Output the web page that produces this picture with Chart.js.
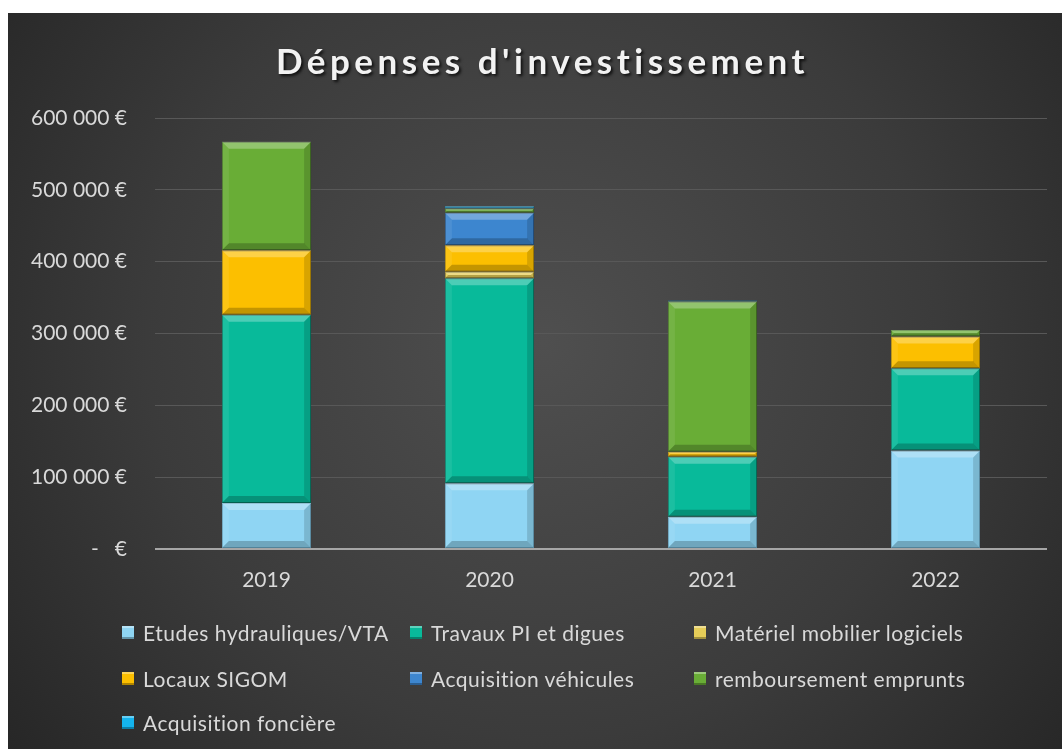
<!DOCTYPE html>
<html>
<head>
<meta charset="utf-8">
<script src="https://cdn.jsdelivr.net/npm/chart.js@4.4.1/dist/chart.umd.min.js"></script>
<style>
  html, body { margin: 0; padding: 0; background: #ffffff; }
  #wrap { position: absolute; left: 8px; top: 13px; width: 1054px; height: 736px; }
  #c { position: absolute; left: 0; top: 0; }
  .lg { position: absolute; font-family: Lato, "Open Sans", sans-serif; font-size: 21px; letter-spacing: 0.5px; color: #d9d9d9; white-space: nowrap; line-height: 24px; }
  .lg .sw { position: absolute; left: 0; top: 5px; width: 12px; height: 13px; box-shadow: inset 0 2px 0 rgba(255,255,255,0.35), inset 0 -2px 0 rgba(0,0,0,0.3); }
  .lg .tx { position: absolute; left: 21px; top: 0; }
</style>
</head>
<body>
<div id="wrap">
  <canvas id="c" width="1054" height="736"></canvas>
  <div id="legend"></div>
</div>
<script>
const categories = ['2019', '2020', '2021', '2022'];
const etudes = [64000, 91500, 45000, 137000];
const travaux = [262000, 285500, 83500, 114700];
const materiel = [null, 9000, null, null];
const locaux = [90000, 37000, 7000, 44000];
const vehicules = [null, 45000, null, null];
const remboursement = [151000, 6000, 209000, 9000];
const fonciere = [null, 3000, 1500, null];
const yTickValues = [0, 100000, 200000, 300000, 400000, 500000, 600000];
const yTickLabels = ['-   €', '100 000 €', '200 000 €', '300 000 €', '400 000 €', '500 000 €', '600 000 €'];
const seriesNames = ['Etudes hydrauliques/VTA', 'Travaux PI et digues', 'Matériel mobilier logiciels', 'Locaux SIGOM', 'Acquisition véhicules', 'remboursement emprunts', 'Acquisition foncière'];
const seriesColors = ['#8fd5f3', '#08ba9a', '#e6cd58', '#fcbf00', '#3d86cf', '#69ad36', '#14b4ee'];
const seriesBorders = ['#6aa8c4', '#047a64', '#9c8a2e', '#b98c00', '#24578c', '#447524', '#0a7aa8'];
const seriesData = [etudes, travaux, materiel, locaux, vehicules, remboursement, fonciere];
const titleText = "Dépenses d'investissement";

const bgPlugin = {
  id: 'bg',
  beforeDraw(chart) {
    const ctx = chart.ctx;
    const w = chart.width, h = chart.height;
    ctx.save();
    const g = ctx.createRadialGradient(535, 330, 0, 535, 330, 720);
    g.addColorStop(0, '#4f4f4f');
    g.addColorStop(0.55, '#3b3b3b');
    g.addColorStop(1, '#232323');
    ctx.fillStyle = g;
    ctx.fillRect(0, 0, w, h);
    ctx.restore();
  },
  afterLayout(chart) {
    const tb = chart.titleBlock;
    if (tb && !tb._patched) {
      const orig = tb.draw;
      tb.draw = function () {
        const ctx = this.ctx;
        ctx.save();
        ctx.translate(15, 0);
        ctx.letterSpacing = '4.5px';
        ctx.shadowColor = 'rgba(0,0,0,0.75)';
        ctx.shadowOffsetX = 2;
        ctx.shadowOffsetY = 2;
        ctx.shadowBlur = 3;
        orig.apply(this, arguments);
        ctx.restore();
      };
      tb._patched = true;
    }
  }
};

const bevelPlugin = {
  id: 'bevel',
  afterDatasetsDraw(chart) {
    const ctx = chart.ctx;
    ctx.save();
    chart.data.datasets.forEach((ds, i) => {
      const meta = chart.getDatasetMeta(i);
      if (meta.hidden) return;
      meta.data.forEach((el, j) => {
        if (ds.data[j] == null) return;
        const p = el.getProps(['x', 'y', 'base', 'width'], true);
        const l = p.x - p.width / 2, r = p.x + p.width / 2;
        const t = Math.min(p.y, p.base), b = Math.max(p.y, p.base);
        const h = b - t;
        const d = Math.min(7, h / 2, p.width / 2);
        if (d < 1) return;
        const poly = (pts, col) => {
          ctx.beginPath();
          ctx.moveTo(pts[0][0], pts[0][1]);
          for (let k = 1; k < pts.length; k++) ctx.lineTo(pts[k][0], pts[k][1]);
          ctx.closePath();
          ctx.fillStyle = col;
          ctx.fill();
        };
        poly([[l, t], [r, t], [r - d, t + d], [l + d, t + d]], 'rgba(255,255,255,0.28)');
        poly([[l, b], [r, b], [r - d, b - d], [l + d, b - d]], 'rgba(0,0,0,0.22)');
        poly([[l, t], [l + d, t + d], [l + d, b - d], [l, b]], 'rgba(255,255,255,0.08)');
        poly([[r, t], [r - d, t + d], [r - d, b - d], [r, b]], 'rgba(0,0,0,0.14)');
      });
    });
    ctx.restore();
  }
};

const datasets = seriesNames.map((name, i) => ({
  label: name,
  data: seriesData[i],
  backgroundColor: seriesColors[i],
  borderColor: seriesBorders[i],
  borderWidth: 1,
  borderSkipped: false,
  barPercentage: 0.4,
  categoryPercentage: 1.0
}));

const chart = new Chart(document.getElementById('c'), {
  type: 'bar',
  data: { labels: categories, datasets },
  plugins: [bgPlugin, bevelPlugin],
  options: {
    responsive: false,
    animation: false,
    devicePixelRatio: 1,
    layout: { padding: { left: 0, right: 15, top: 0, bottom: 150 } },
    plugins: {
      legend: { display: false },
      tooltip: { enabled: false },
      title: {
        display: true,
        text: titleText,
        color: '#f2f2f2',
        font: { family: 'Lato', size: 35, weight: 'bold', lineHeight: 1.2 },
        padding: { top: 29, bottom: 34 }
      }
    },
    scales: {
      x: {
        stacked: true,
        grid: { display: false, drawTicks: false },
        border: { display: false },
        ticks: { color: '#d9d9d9', font: { family: 'Lato', size: 21 }, padding: 19 },
        afterFit(scale) { scale.height = 50; }
      },
      y: {
        stacked: true,
        min: 0,
        max: 600000,
        afterBuildTicks(scale) { scale.ticks = yTickValues.map(v => ({ value: v })); },
        grid: {
          drawTicks: false,
          color: (c) => (c.tick && c.tick.value === 0 ? '#a6a6a6' : '#585858'),
          lineWidth: (c) => (c.tick && c.tick.value === 0 ? 2 : 1)
        },
        border: { display: false },
        ticks: {
          color: '#d9d9d9',
          font: { family: 'Lato', size: 21 },
          padding: 28,
          callback: (v) => yTickLabels[yTickValues.indexOf(v)]
        },
        afterFit(scale) { scale.width = 147; }
      }
    }
  }
});

// HTML legend in three columns, from the dataset names and colours
const legendPos = [[114, 608], [402, 608], [686, 608], [114, 654], [402, 654], [686, 654], [114, 698]];
const lg = document.getElementById('legend');
seriesNames.forEach((name, i) => {
  const d = document.createElement('div');
  d.className = 'lg';
  d.style.left = legendPos[i][0] + 'px';
  d.style.top = legendPos[i][1] + 'px';
  const sw = document.createElement('span');
  sw.className = 'sw';
  sw.style.background = seriesColors[i];
  const tx = document.createElement('span');
  tx.className = 'tx';
  tx.textContent = name;
  d.appendChild(sw);
  d.appendChild(tx);
  lg.appendChild(d);
});
</script>
</body>
</html>
